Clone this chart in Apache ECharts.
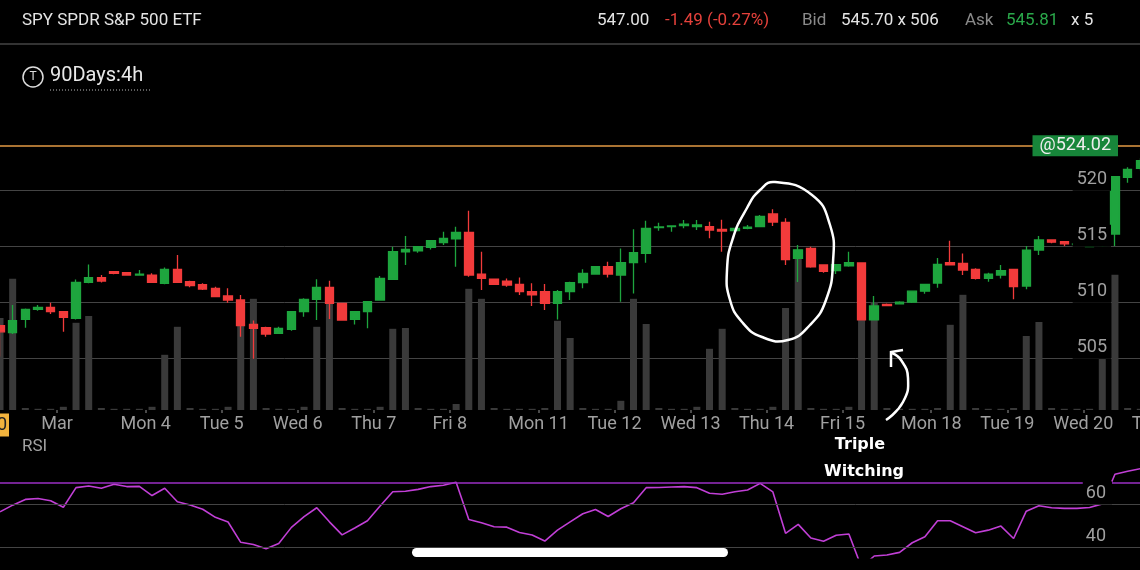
<!DOCTYPE html>
<html>
<head>
<meta charset="utf-8">
<title>SPY 90Days:4h</title>
<script src="https://cdn.jsdelivr.net/npm/echarts@6/dist/echarts.min.js"></script>
<style>
  html, body { margin: 0; padding: 0; background: #000; }
  #chart { width: 1140px; height: 570px; }
</style>
</head>
<body>
<div id="chart"></div>
<script>
// 4h bars, one category per bar (last two are empty slots at the right edge)
var times = [
  '2024-02-29 08:00', '2024-02-29 12:00', '2024-02-29 16:00', '2024-02-29 20:00', '2024-03-01 00:00',
  '2024-03-01 04:00', '2024-03-01 08:00', '2024-03-01 12:00', '2024-03-01 16:00', '2024-03-01 20:00', '2024-03-03 20:00', '2024-03-04 00:00',
  '2024-03-04 04:00', '2024-03-04 08:00', '2024-03-04 12:00', '2024-03-04 16:00', '2024-03-04 20:00', '2024-03-05 00:00',
  '2024-03-05 04:00', '2024-03-05 08:00', '2024-03-05 12:00', '2024-03-05 16:00', '2024-03-05 20:00', '2024-03-06 00:00',
  '2024-03-06 04:00', '2024-03-06 08:00', '2024-03-06 12:00', '2024-03-06 16:00', '2024-03-06 20:00', '2024-03-07 00:00',
  '2024-03-07 04:00', '2024-03-07 08:00', '2024-03-07 12:00', '2024-03-07 16:00', '2024-03-07 20:00', '2024-03-08 00:00',
  '2024-03-08 04:00', '2024-03-08 08:00', '2024-03-08 12:00', '2024-03-08 16:00', '2024-03-08 20:00', '2024-03-10 20:00', '2024-03-11 00:00',
  '2024-03-11 04:00', '2024-03-11 08:00', '2024-03-11 12:00', '2024-03-11 16:00', '2024-03-11 20:00', '2024-03-12 00:00',
  '2024-03-12 04:00', '2024-03-12 08:00', '2024-03-12 12:00', '2024-03-12 16:00', '2024-03-12 20:00', '2024-03-13 00:00',
  '2024-03-13 04:00', '2024-03-13 08:00', '2024-03-13 12:00', '2024-03-13 16:00', '2024-03-13 20:00', '2024-03-14 00:00',
  '2024-03-14 04:00', '2024-03-14 08:00', '2024-03-14 12:00', '2024-03-14 16:00', '2024-03-14 20:00', '2024-03-15 00:00',
  '2024-03-15 04:00', '2024-03-15 08:00', '2024-03-15 12:00', '2024-03-15 16:00', '2024-03-15 20:00', '2024-03-17 20:00', '2024-03-18 00:00',
  '2024-03-18 04:00', '2024-03-18 08:00', '2024-03-18 12:00', '2024-03-18 16:00', '2024-03-18 20:00', '2024-03-19 00:00',
  '2024-03-19 04:00', '2024-03-19 08:00', '2024-03-19 12:00', '2024-03-19 16:00', '2024-03-19 20:00', '2024-03-20 00:00',
  '2024-03-20 04:00', '2024-03-20 08:00', '2024-03-20 12:00', '2024-03-20 16:00', '2024-03-20 20:00', '2024-03-21 00:00',
  '2024-03-21 04:00'
];

// [open, close, low, high]
var ohlc = [
  [507.95, 507.40, 505.20, 508.05], [507.32, 508.39, 507.20, 509.79], [508.51, 509.40, 507.77, 509.49],
  [509.40, 509.58, 509.29, 509.79], [509.58, 509.20, 508.99, 510.00], [509.20, 508.69, 507.41, 509.25],
  [508.60, 511.81, 508.51, 512.08], [511.81, 512.23, 511.73, 513.42], [512.23, 511.93, 511.81, 512.47],
  [512.77, 512.62, 512.53, 512.83], [512.68, 512.47, 512.41, 512.71], [512.47, 512.56, 512.44, 512.92],
  [512.47, 511.82, 511.82, 512.62], [511.73, 512.98, 511.64, 513.15], [512.98, 511.81, 511.81, 514.26],
  [511.87, 511.52, 511.37, 511.96], [511.61, 511.22, 511.13, 511.73], [511.28, 510.54, 510.54, 511.43],
  [510.60, 510.24, 510.00, 511.30], [510.24, 507.95, 506.96, 510.69], [508.07, 507.71, 505.00, 508.40],
  [507.77, 507.20, 506.96, 507.86], [507.26, 507.71, 507.20, 507.86], [507.62, 509.20, 507.50, 509.20],
  [509.20, 510.30, 508.75, 510.39], [510.30, 511.37, 508.45, 512.09], [511.37, 509.94, 508.55, 511.96],
  [509.94, 508.45, 508.39, 510.00], [508.51, 509.20, 508.06, 509.20], [509.20, 510.09, 507.71, 510.09],
  [510.24, 512.17, 510.20, 512.38], [512.08, 514.55, 512.02, 514.99], [514.55, 514.76, 513.36, 515.95],
  [514.64, 515.00, 514.46, 515.06], [514.94, 515.54, 514.76, 515.60], [515.36, 515.75, 515.15, 516.34],
  [515.69, 516.28, 513.21, 516.79], [516.28, 512.47, 512.32, 518.21], [512.56, 512.17, 511.13, 514.55],
  [512.11, 511.64, 511.58, 512.17], [511.93, 511.58, 511.43, 512.17], [511.64, 510.98, 510.69, 512.26],
  [510.98, 510.69, 509.70, 511.73], [510.98, 509.94, 509.35, 511.67], [509.94, 510.98, 508.51, 511.13],
  [510.98, 511.79, 510.24, 511.87], [511.79, 512.62, 511.28, 512.98], [512.56, 513.21, 512.56, 513.21],
  [513.21, 512.56, 512.26, 513.65], [512.47, 513.57, 510.09, 514.85], [513.57, 514.46, 510.83, 516.55],
  [514.40, 516.64, 513.57, 517.32], [516.70, 516.76, 516.43, 517.14], [516.79, 516.85, 516.34, 516.85],
  [516.88, 517.02, 516.64, 517.38], [516.79, 516.94, 516.49, 517.38], [516.79, 516.49, 515.75, 517.23],
  [516.55, 516.40, 514.55, 517.40], [516.43, 516.64, 516.34, 516.64], [516.64, 516.75, 516.55, 516.94],
  [516.79, 517.70, 516.73, 517.83], [517.92, 517.20, 516.85, 518.34], [517.18, 513.85, 513.37, 517.55],
  [513.96, 514.72, 511.85, 515.15], [514.85, 513.21, 513.13, 515.00], [513.37, 512.80, 512.68, 513.37],
  [512.86, 513.40, 512.56, 513.45], [513.30, 513.57, 513.22, 514.56], [513.55, 508.46, 508.46, 513.57],
  [508.46, 509.71, 508.40, 510.60], [509.85, 509.75, 509.68, 509.92], [509.90, 510.05, 509.83, 510.14],
  [510.05, 511.03, 509.98, 511.10], [511.03, 511.63, 510.80, 511.69], [511.75, 513.42, 511.33, 514.00],
  [513.57, 513.37, 513.37, 515.54], [513.51, 512.92, 512.47, 514.40], [512.98, 512.17, 512.08, 513.07],
  [512.17, 512.56, 511.87, 512.68], [512.47, 512.86, 512.17, 513.37], [512.98, 511.43, 510.30, 512.98],
  [511.49, 514.70, 511.19, 515.06], [514.70, 515.60, 514.25, 515.95], [515.60, 515.40, 515.30, 515.66],
  [515.45, 515.26, 515.06, 515.45], [515.18, 515.24, 515.12, 515.28], [515.02, 515.06, 514.98, 515.10],
  [515.10, 515.20, 515.00, 515.30], [516.13, 521.26, 515.06, 521.30], [521.19, 521.91, 520.70, 522.10],
  [522.00, 522.68, 521.80, 522.90]
];

// volume, millions of shares
var volume = [
  23.0, 32.8, 0.5, 0.3, 0.3, 0.8, 21.8, 23.5, 0.5, 0.3, 0.3, 0.3,
  0.8, 13.8, 20.8, 0.5, 0.3, 0.3,
  0.8, 27.5, 27.8, 0.5, 0.3, 0.3,
  0.8, 20.8, 28.8, 0.5, 0.3, 0.3,
  0.8, 20.3, 20.5, 0.5, 0.3, 0.3,
  1.5, 30.3, 27.8, 0.5, 0.3, 0.3, 0.3,
  0.5, 22.3, 18.0, 0.5, 0.3, 0.3,
  2.3, 27.8, 21.5, 0.5, 0.3, 0.3,
  0.8, 15.3, 20.3, 0.5, 0.3, 0.3,
  0.8, 25.5, 38.8, 0.5, 0.3, 0.3,
  0.8, 27.5, 27.0, 0.5, 0.3, 0.3, 0.3,
  0.5, 21.3, 28.8, 0.5, 0.3, 0.3,
  0.5, 18.5, 22.0, 0.5, 0.3, 0.3,
  0.3, 15.5, 33.8, 0.5, 0.3
];

var rsi = [
  56.5, 59.6, 62.3, 62.7, 61.7, 58.6, 67.8, 68.6, 67.5, 69.4, 68.3, 68.4,
  64.1, 67.5, 61.2, 59.7, 57.7, 53.9,
  51.7, 42.2, 41.2, 39.2, 41.7, 49.2,
  54.2, 58.4, 51.8, 45.7, 48.9, 52.3,
  59.2, 65.9, 66.1, 67.0, 68.3, 68.9,
  70.3, 52.9, 51.4, 49.5, 49.3, 46.8, 45.6,
  42.8, 47.9, 51.8, 55.6, 57.6, 54.3,
  57.9, 60.7, 67.8, 67.9, 68.1, 68.3,
  67.8, 65.2, 64.7, 65.9, 66.7, 69.8,
  65.8, 46.4, 50.6, 44.2, 42.7, 45.5,
  46.1, 30.5, 35.8, 36.3, 37.5, 42.0, 44.8,
  52.3, 52.3, 49.5, 46.7, 47.9, 49.8,
  44.0, 56.8, 59.3, 58.4, 58.1, 58.1,
  58.5, 60.2, 74.1, 75.5, 76.7, null, null
];

var refPrice = 524.02;
var rsiLines = [70, 60, 40];

var upColor = '#1ea53e';
var downColor = '#f23b3b';
var gridColor = '#444';
var axisText = '#a0a0a0';

// each 4h bar takes a fixed slot; first bar centred on the left edge
var slot = 12.67;
var gridLeft = -slot / 2;
var gridEnd = times.length * slot - slot / 2;
var gridRight = 1140 - gridEnd;

var monthNames = ['Jan', 'Feb', 'Mar', 'Apr', 'May', 'Jun', 'Jul', 'Aug', 'Sep', 'Oct', 'Nov', 'Dec'];
var dayNames = ['Sun', 'Mon', 'Tue', 'Wed', 'Thu', 'Fri', 'Sat'];

function isDayStart(index, value) {
  return value.slice(11) === '04:00';
}
function dayLabel(value) {
  var d = new Date(value.slice(0, 10) + 'T12:00:00');
  if (d.getDate() === 1) return monthNames[d.getMonth()];
  return dayNames[d.getDay()] + ' ' + d.getDate();
}

var dom = document.getElementById('chart');
var myChart = echarts.init(dom, null, { renderer: 'canvas' });

var option = {
  backgroundColor: '#000',
  animation: false,
  textStyle: { fontFamily: 'Roboto, sans-serif' },
  grid: [
    { left: gridLeft, right: gridRight, top: 134.7, bottom: 155.3, outerBoundsMode: 'none', containLabel: false },
    { left: gridLeft, right: gridRight, top: 210, bottom: 160, outerBoundsMode: 'none', containLabel: false },
    { left: gridLeft, right: gridRight, top: 461.6, bottom: 12.3, outerBoundsMode: 'none', containLabel: false }
  ],
  xAxis: [
    { type: 'category', gridIndex: 0, data: times, boundaryGap: true, show: false },
    {
      type: 'category',
      gridIndex: 1,
      data: times,
      boundaryGap: true,
      axisLine: { show: false },
      axisTick: {
        show: true,
        interval: isDayStart,
        length: 3,
        lineStyle: { color: '#4a4a4a', width: 2 }
      },
      axisLabel: {
        interval: isDayStart,
        formatter: dayLabel,
        color: axisText,
        fontSize: 18,
        margin: 5,
        padding: [0, slot, 0, 0]
      },
      splitLine: { show: false }
    },
    { type: 'category', gridIndex: 2, data: times, boundaryGap: true, show: false }
  ],
  yAxis: [
    {
      type: 'value',
      gridIndex: 0,
      min: 500,
      max: 525,
      interval: 5,
      position: 'right',
      axisLine: { show: false },
      axisTick: { show: false },
      axisLabel: { show: false },
      splitLine: {
        show: true,
        showMinLine: false,
        showMaxLine: false,
        lineStyle: { color: gridColor, width: 1 }
      }
    },
    {
      type: 'value',
      gridIndex: 0,
      min: 500,
      max: 525,
      interval: 5,
      position: 'right',
      z: 10,
      axisLine: { show: false },
      axisTick: { show: false },
      splitLine: { show: false },
      axisLabel: {
        inside: true,
        margin: gridEnd - 1111,
        color: axisText,
        fontSize: 18,
        verticalAlign: 'bottom',
        backgroundColor: '#000',
        padding: [2, 4, 2, 4],
        showMinLabel: false,
        showMaxLabel: false
      }
    },
    { type: 'value', gridIndex: 1, min: 0, max: 50, show: false },
    {
      type: 'value',
      gridIndex: 2,
      min: 35,
      max: 80,
      interval: 5,
      position: 'right',
      z: 10,
      axisLine: { show: false },
      axisTick: { show: false },
      splitLine: { show: false },
      axisLabel: {
        inside: true,
        margin: gridEnd - 1112,
        verticalAlign: 'bottom',
        formatter: function (v) {
          return (v === 60 || v === 40) ? '{a|' + v + '}' : '';
        },
        rich: {
          a: { color: axisText, fontSize: 18, backgroundColor: '#000', padding: [3, 6, 2, 3] }
        }
      }
    }
  ],
  series: [
    {
      name: 'Volume',
      type: 'bar',
      xAxisIndex: 1,
      yAxisIndex: 2,
      data: volume,
      barWidth: 7,
      itemStyle: { color: '#3a3a3a' },
      silent: true
    },
    {
      name: 'SPY',
      type: 'candlestick',
      xAxisIndex: 0,
      yAxisIndex: 0,
      data: ohlc,
      barWidth: 9,
      itemStyle: {
        color: upColor,
        color0: downColor,
        borderColor: upColor,
        borderColor0: downColor,
        borderWidth: 1.3
      },
      markLine: {
        symbol: 'none',
        silent: true,
        animation: false,
        data: [{ yAxis: refPrice }],
        lineStyle: { color: '#e39a45', width: 1.5, type: 'solid', opacity: 1 },
        label: {
          show: true,
          position: 'insideEnd',
          formatter: '@' + refPrice.toFixed(2),
          color: '#eeeeee',
          fontSize: 18,
          backgroundColor: '#17863a',
          padding: [2, 7, 1, 7],
          verticalAlign: 'middle',
          distance: [gridEnd - 1118, 0]
        }
      }
    },
    {
      name: 'RSI',
      type: 'line',
      xAxisIndex: 2,
      yAxisIndex: 3,
      data: rsi,
      symbol: 'none',
      connectNulls: false,
      lineStyle: { color: '#c13fd6', width: 1.6 },
      markLine: {
        symbol: 'none',
        silent: true,
        animation: false,
        label: { show: false },
        data: rsiLines.map(function (v) {
          return {
            yAxis: v,
            lineStyle: v === 70 ? { color: '#9b2fc4', width: 1.5, type: 'solid' } : { color: gridColor, width: 1, type: 'solid' }
          };
        })
      }
    }
  ],
  graphic: [
    // header
    { type: 'text', left: 22, top: 12, style: { text: 'SPY SPDR S&P 500 ETF', fill: '#e4e4e4', font: '17px Roboto' } },
    { type: 'text', left: 597, top: 12, style: { text: '547.00', fill: '#e4e4e4', font: '17px Roboto' } },
    { type: 'text', left: 665, top: 12, style: { text: '-1.49 (-0.27%)', fill: '#e5413b', font: '17px Roboto' } },
    { type: 'text', left: 802, top: 12, style: { text: 'Bid', fill: '#8a8a8a', font: '17px Roboto' } },
    { type: 'text', left: 841, top: 12, style: { text: '545.70 x 506', fill: '#e4e4e4', font: '17px Roboto' } },
    { type: 'text', left: 965, top: 12, style: { text: 'Ask', fill: '#8a8a8a', font: '17px Roboto' } },
    { type: 'text', left: 1006, top: 12, style: { text: '545.81', fill: '#2aa84a', font: '17px Roboto' } },
    { type: 'text', left: 1071, top: 12, style: { text: 'x 5', fill: '#e4e4e4', font: '17px Roboto' } },
    { type: 'line', shape: { x1: 0, y1: 44, x2: 1140, y2: 44 }, style: { stroke: '#333', lineWidth: 2 } },
    { type: 'circle', shape: { cx: 33, cy: 77, r: 10 }, style: { fill: 'transparent', stroke: '#dddddd', lineWidth: 1.5 } },
    { type: 'text', x: 33, y: 77, style: { text: 'T', fill: '#dddddd', font: '12px Roboto', align: 'center', verticalAlign: 'middle' } },
    { type: 'text', left: 50, top: 66, style: { text: '90Days:4h', fill: '#e8e8e8', font: '20px Roboto' } },
    { type: 'line', shape: { x1: 50, y1: 90, x2: 151, y2: 90 }, style: { stroke: '#bbbbbb', lineWidth: 1, lineDash: [1, 2] } },
    { type: 'text', left: 22, top: 438, style: { text: 'RSI', fill: axisText, font: '17px Roboto' } },
    { type: 'text', x: 9, y: 425, style: { text: '0', fill: '#222', font: '18px Roboto', align: 'right', verticalAlign: 'middle', backgroundColor: '#f2b33d', padding: [3, 2, 2, 20] } },
    { type: 'rect', shape: { x: 412, y: 548, width: 316, height: 9, r: 4.5 }, style: { fill: '#ffffff' } },
    // hand drawn notes
    {
      type: 'polygon',
      z: 100,
      shape: {
        smooth: 0.5,
        points: [[775, 182], [812, 195], [830, 225], [833, 262], [826, 300], [810, 325], [788, 340],
                 [762, 337], [742, 322], [730, 300], [727, 270], [733, 238], [747, 208], [760, 190]]
      },
      style: { fill: 'transparent', stroke: '#ffffff', lineWidth: 2.5 }
    },
    {
      type: 'polyline',
      z: 100,
      shape: { smooth: 0.5, points: [[886, 420], [903, 402], [908, 378], [901, 360], [892, 353]] },
      style: { stroke: '#ffffff', lineWidth: 2.5, fill: null }
    },
    {
      type: 'polyline',
      z: 100,
      shape: { points: [[903, 350], [891, 352], [891, 367]] },
      style: { stroke: '#ffffff', lineWidth: 2.5, fill: null }
    },
    { type: 'text', z: 100, x: 860, y: 445, style: { text: 'Triple', fill: '#ffffff', font: 'bold 16px "DejaVu Sans"', align: 'center', verticalAlign: 'middle' } },
    { type: 'text', z: 100, x: 864, y: 472, style: { text: 'Witching', fill: '#ffffff', font: 'bold 16px "DejaVu Sans"', align: 'center', verticalAlign: 'middle' } }
  ]
};

myChart.setOption(option);
window.addEventListener('resize', function () {
  myChart.resize();
});
</script>
</body>
</html>
